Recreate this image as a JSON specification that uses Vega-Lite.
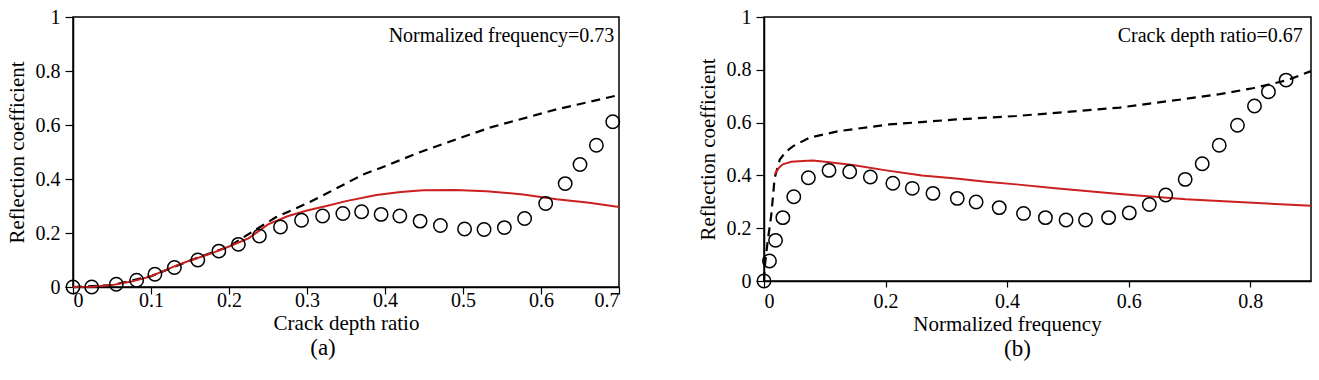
{
  "$schema": "https://vega.github.io/schema/vega-lite/v6.json",
  "background": "white",
  "padding": {"left": 5, "top": 6, "right": 0, "bottom": 0},
  "spacing": 145,
  "bounds": "flush",
  "config": {
    "view": {"stroke": "black", "strokeWidth": 1.5},
    "style": {
      "guide-label": {"font": "Liberation Serif", "fontSize": 20},
      "guide-title": {"font": "Liberation Serif", "fontSize": 21},
      "group-title": {"font": "Liberation Serif", "fontSize": 23}
    }
  },
  "datasets": {
    "a": [
      {"s": "circle", "x": 0, "y": 0},
      {"s": "circle", "x": 0.024, "y": 0.0},
      {"s": "circle", "x": 0.0555, "y": 0.01},
      {"s": "circle", "x": 0.0816, "y": 0.025},
      {"s": "circle", "x": 0.105, "y": 0.047},
      {"s": "circle", "x": 0.13, "y": 0.072},
      {"s": "circle", "x": 0.16, "y": 0.1},
      {"s": "circle", "x": 0.187, "y": 0.133},
      {"s": "circle", "x": 0.212, "y": 0.158},
      {"s": "circle", "x": 0.239, "y": 0.189},
      {"s": "circle", "x": 0.266, "y": 0.222},
      {"s": "circle", "x": 0.293, "y": 0.247},
      {"s": "circle", "x": 0.32, "y": 0.263},
      {"s": "circle", "x": 0.346, "y": 0.272},
      {"s": "circle", "x": 0.37, "y": 0.279},
      {"s": "circle", "x": 0.395, "y": 0.269},
      {"s": "circle", "x": 0.419, "y": 0.263},
      {"s": "circle", "x": 0.445, "y": 0.244},
      {"s": "circle", "x": 0.471, "y": 0.228},
      {"s": "circle", "x": 0.502, "y": 0.215},
      {"s": "circle", "x": 0.527, "y": 0.213},
      {"s": "circle", "x": 0.553, "y": 0.22},
      {"s": "circle", "x": 0.579, "y": 0.254},
      {"s": "circle", "x": 0.606, "y": 0.309},
      {"s": "circle", "x": 0.631, "y": 0.383},
      {"s": "circle", "x": 0.65, "y": 0.454},
      {"s": "circle", "x": 0.671, "y": 0.525},
      {"s": "circle", "x": 0.692, "y": 0.612},
      {"s": "red", "x": 0, "y": 0},
      {"s": "red", "x": 0.025, "y": 0.001},
      {"s": "red", "x": 0.05, "y": 0.007},
      {"s": "red", "x": 0.075, "y": 0.02},
      {"s": "red", "x": 0.1, "y": 0.04},
      {"s": "red", "x": 0.133, "y": 0.08},
      {"s": "red", "x": 0.15, "y": 0.098},
      {"s": "red", "x": 0.175, "y": 0.122},
      {"s": "red", "x": 0.2, "y": 0.15},
      {"s": "red", "x": 0.225, "y": 0.18},
      {"s": "red", "x": 0.25, "y": 0.232},
      {"s": "red", "x": 0.275, "y": 0.262},
      {"s": "red", "x": 0.3, "y": 0.283},
      {"s": "red", "x": 0.325, "y": 0.3},
      {"s": "red", "x": 0.35, "y": 0.318},
      {"s": "red", "x": 0.389, "y": 0.341},
      {"s": "red", "x": 0.42, "y": 0.352},
      {"s": "red", "x": 0.449, "y": 0.358},
      {"s": "red", "x": 0.49, "y": 0.359},
      {"s": "red", "x": 0.53, "y": 0.355},
      {"s": "red", "x": 0.577, "y": 0.343},
      {"s": "red", "x": 0.62, "y": 0.325},
      {"s": "red", "x": 0.662, "y": 0.312},
      {"s": "red", "x": 0.7, "y": 0.296},
      {"s": "dash", "x": 0, "y": 0},
      {"s": "dash", "x": 0.05, "y": 0.007},
      {"s": "dash", "x": 0.1, "y": 0.04},
      {"s": "dash", "x": 0.15, "y": 0.098},
      {"s": "dash", "x": 0.2, "y": 0.15},
      {"s": "dash", "x": 0.235, "y": 0.214},
      {"s": "dash", "x": 0.26, "y": 0.258},
      {"s": "dash", "x": 0.3, "y": 0.31},
      {"s": "dash", "x": 0.325, "y": 0.346},
      {"s": "dash", "x": 0.372, "y": 0.417},
      {"s": "dash", "x": 0.389, "y": 0.435},
      {"s": "dash", "x": 0.449, "y": 0.504},
      {"s": "dash", "x": 0.534, "y": 0.59},
      {"s": "dash", "x": 0.62, "y": 0.658},
      {"s": "dash", "x": 0.7, "y": 0.711}
    ],
    "b": [
      {"s": "circle", "x": 0, "y": 0},
      {"s": "circle", "x": 0.009, "y": 0.076},
      {"s": "circle", "x": 0.019, "y": 0.154},
      {"s": "circle", "x": 0.031, "y": 0.24},
      {"s": "circle", "x": 0.049, "y": 0.319},
      {"s": "circle", "x": 0.073, "y": 0.391},
      {"s": "circle", "x": 0.107, "y": 0.419},
      {"s": "circle", "x": 0.141, "y": 0.414},
      {"s": "circle", "x": 0.175, "y": 0.394},
      {"s": "circle", "x": 0.212, "y": 0.37},
      {"s": "circle", "x": 0.244, "y": 0.351},
      {"s": "circle", "x": 0.278, "y": 0.332},
      {"s": "circle", "x": 0.318, "y": 0.313},
      {"s": "circle", "x": 0.349, "y": 0.299},
      {"s": "circle", "x": 0.387, "y": 0.278},
      {"s": "circle", "x": 0.427, "y": 0.256},
      {"s": "circle", "x": 0.463, "y": 0.24},
      {"s": "circle", "x": 0.497, "y": 0.231},
      {"s": "circle", "x": 0.529, "y": 0.231},
      {"s": "circle", "x": 0.567, "y": 0.24},
      {"s": "circle", "x": 0.601, "y": 0.258},
      {"s": "circle", "x": 0.634, "y": 0.29},
      {"s": "circle", "x": 0.661, "y": 0.326},
      {"s": "circle", "x": 0.693, "y": 0.385},
      {"s": "circle", "x": 0.721, "y": 0.444},
      {"s": "circle", "x": 0.749, "y": 0.514},
      {"s": "circle", "x": 0.779, "y": 0.59},
      {"s": "circle", "x": 0.807, "y": 0.663},
      {"s": "circle", "x": 0.83, "y": 0.717},
      {"s": "circle", "x": 0.859, "y": 0.761},
      {"s": "red", "x": 0.0175, "y": 0.404},
      {"s": "red", "x": 0.025, "y": 0.43},
      {"s": "red", "x": 0.031, "y": 0.442},
      {"s": "red", "x": 0.045, "y": 0.452},
      {"s": "red", "x": 0.064, "y": 0.455},
      {"s": "red", "x": 0.08, "y": 0.456},
      {"s": "red", "x": 0.1, "y": 0.452},
      {"s": "red", "x": 0.146, "y": 0.439},
      {"s": "red", "x": 0.201, "y": 0.419},
      {"s": "red", "x": 0.26, "y": 0.4},
      {"s": "red", "x": 0.316, "y": 0.388},
      {"s": "red", "x": 0.365, "y": 0.376},
      {"s": "red", "x": 0.415, "y": 0.366},
      {"s": "red", "x": 0.475, "y": 0.352},
      {"s": "red", "x": 0.585, "y": 0.33},
      {"s": "red", "x": 0.694, "y": 0.31},
      {"s": "red", "x": 0.804, "y": 0.296},
      {"s": "red", "x": 0.9, "y": 0.285},
      {"s": "dash", "x": 0, "y": 0},
      {"s": "dash", "x": 0.001, "y": 0.05},
      {"s": "dash", "x": 0.006, "y": 0.15},
      {"s": "dash", "x": 0.012, "y": 0.25},
      {"s": "dash", "x": 0.0175, "y": 0.39},
      {"s": "dash", "x": 0.026, "y": 0.46},
      {"s": "dash", "x": 0.036, "y": 0.49},
      {"s": "dash", "x": 0.048, "y": 0.511},
      {"s": "dash", "x": 0.075, "y": 0.543},
      {"s": "dash", "x": 0.124, "y": 0.568},
      {"s": "dash", "x": 0.206, "y": 0.593},
      {"s": "dash", "x": 0.316, "y": 0.612},
      {"s": "dash", "x": 0.415, "y": 0.625},
      {"s": "dash", "x": 0.475, "y": 0.636},
      {"s": "dash", "x": 0.585, "y": 0.657},
      {"s": "dash", "x": 0.694, "y": 0.69},
      {"s": "dash", "x": 0.75, "y": 0.708},
      {"s": "dash", "x": 0.804, "y": 0.73},
      {"s": "dash", "x": 0.86, "y": 0.76},
      {"s": "dash", "x": 0.9, "y": 0.795}
    ]
  },
  "hconcat": [
    {
      "width": 546,
      "height": 270,
      "title": {"text": "(a)", "dx": -23, "orient": "bottom", "offset": 4, "font": "Liberation Serif", "fontSize": 23, "fontWeight": "normal", "color": "black"},
      "layer": [
        {"data": {"name": "a"}, "transform": [{"filter": "datum.s === 'dash'"}], "mark": {"type": "line", "color": "black", "strokeWidth": 2.2, "strokeDash": [9, 6]},
          "encoding": {
            "x": {"field": "x", "type": "quantitative", "scale": {"domain": [0, 0.7], "nice": false},
              "axis": {"title": "Crack depth ratio", "values": [0, 0.1, 0.2, 0.3, 0.4, 0.5, 0.6, 0.7], "format": "~g", "grid": false,
                "domainColor": "black", "domainWidth": 1.5, "tickColor": "black", "tickWidth": 1.2, "tickSize": 7,
                "labelFont": "Liberation Serif", "labelFontSize": 20, "labelColor": "black", "labelPadding": -4,
                "titleFont": "Liberation Serif", "titleFontSize": 21, "titleFontWeight": "normal", "titleColor": "black", "titlePadding": 2}},
            "y": {"field": "y", "type": "quantitative", "scale": {"domain": [0, 1], "nice": false},
              "axis": {"title": "Reflection coefficient", "values": [0, 0.2, 0.4, 0.6, 0.8, 1], "format": "~g", "grid": false,
                "domainColor": "black", "domainWidth": 1.5, "tickColor": "black", "tickWidth": 1.2, "tickSize": 8,
                "labelFont": "Liberation Serif", "labelFontSize": 20, "labelColor": "black", "labelPadding": 5,
                "titleFont": "Liberation Serif", "titleFontSize": 21, "titleFontWeight": "normal", "titleColor": "black", "titlePadding": 8}}
          }},
        {"data": {"name": "a"}, "transform": [{"filter": "datum.s === 'red'"}], "mark": {"type": "line", "color": "#cc1f1f", "strokeWidth": 2},
          "encoding": {"x": {"field": "x", "type": "quantitative"}, "y": {"field": "y", "type": "quantitative"}}},
        {"data": {"name": "a"}, "transform": [{"filter": "datum.s === 'circle'"}], "mark": {"type": "point", "shape": "circle", "filled": false, "color": "black", "opacity": 1, "strokeWidth": 1.5, "size": 180},
          "encoding": {"x": {"field": "x", "type": "quantitative"}, "y": {"field": "y", "type": "quantitative"}}},
        {"data": {"values": [{"label": "Normalized frequency=0.73"}]},
          "mark": {"type": "text", "align": "right", "baseline": "middle", "font": "Liberation Serif", "fontSize": 20, "color": "black"},
          "encoding": {"x": {"datum": 0.694, "type": "quantitative"}, "y": {"datum": 0.93, "type": "quantitative"}, "text": {"field": "label"}}}
      ]
    },
    {
      "width": 547,
      "height": 264,
      "title": {"text": "(b)", "dx": -20, "orient": "bottom", "offset": 4, "font": "Liberation Serif", "fontSize": 23, "fontWeight": "normal", "color": "black"},
      "layer": [
        {"data": {"name": "b"}, "transform": [{"filter": "datum.s === 'dash'"}], "mark": {"type": "line", "color": "black", "strokeWidth": 2.2, "strokeDash": [9, 6]},
          "encoding": {
            "x": {"field": "x", "type": "quantitative", "scale": {"domain": [0, 0.9], "nice": false},
              "axis": {"title": "Normalized frequency", "values": [0, 0.2, 0.4, 0.6, 0.8], "format": "~g", "grid": false,
                "domainColor": "black", "domainWidth": 1.5, "tickColor": "black", "tickWidth": 1.2, "tickSize": 6,
                "labelFont": "Liberation Serif", "labelFontSize": 20, "labelColor": "black", "labelPadding": 4,
                "titleFont": "Liberation Serif", "titleFontSize": 21, "titleFontWeight": "normal", "titleColor": "black", "titlePadding": 2, "titleX": 243}},
            "y": {"field": "y", "type": "quantitative", "scale": {"domain": [0, 1], "nice": false},
              "axis": {"title": "Reflection coefficient", "values": [0, 0.2, 0.4, 0.6, 0.8, 1], "format": "~g", "grid": false,
                "domainColor": "black", "domainWidth": 1.5, "tickColor": "black", "tickWidth": 1.2, "tickSize": 8,
                "labelFont": "Liberation Serif", "labelFontSize": 20, "labelColor": "black", "labelPadding": 5,
                "titleFont": "Liberation Serif", "titleFontSize": 21, "titleFontWeight": "normal", "titleColor": "black", "titlePadding": 8}}
          }},
        {"data": {"name": "b"}, "transform": [{"filter": "datum.s === 'red'"}], "mark": {"type": "line", "color": "#cc1f1f", "strokeWidth": 2},
          "encoding": {"x": {"field": "x", "type": "quantitative"}, "y": {"field": "y", "type": "quantitative"}}},
        {"data": {"name": "b"}, "transform": [{"filter": "datum.s === 'circle'"}], "mark": {"type": "point", "shape": "circle", "filled": false, "color": "black", "opacity": 1, "strokeWidth": 1.5, "size": 180},
          "encoding": {"x": {"field": "x", "type": "quantitative"}, "y": {"field": "y", "type": "quantitative"}}},
        {"data": {"values": [{"label": "Crack depth ratio=0.67"}]},
          "mark": {"type": "text", "align": "right", "baseline": "middle", "font": "Liberation Serif", "fontSize": 20, "color": "black"},
          "encoding": {"x": {"datum": 0.8866, "type": "quantitative"}, "y": {"datum": 0.928, "type": "quantitative"}, "text": {"field": "label"}}}
      ]
    }
  ]
}
